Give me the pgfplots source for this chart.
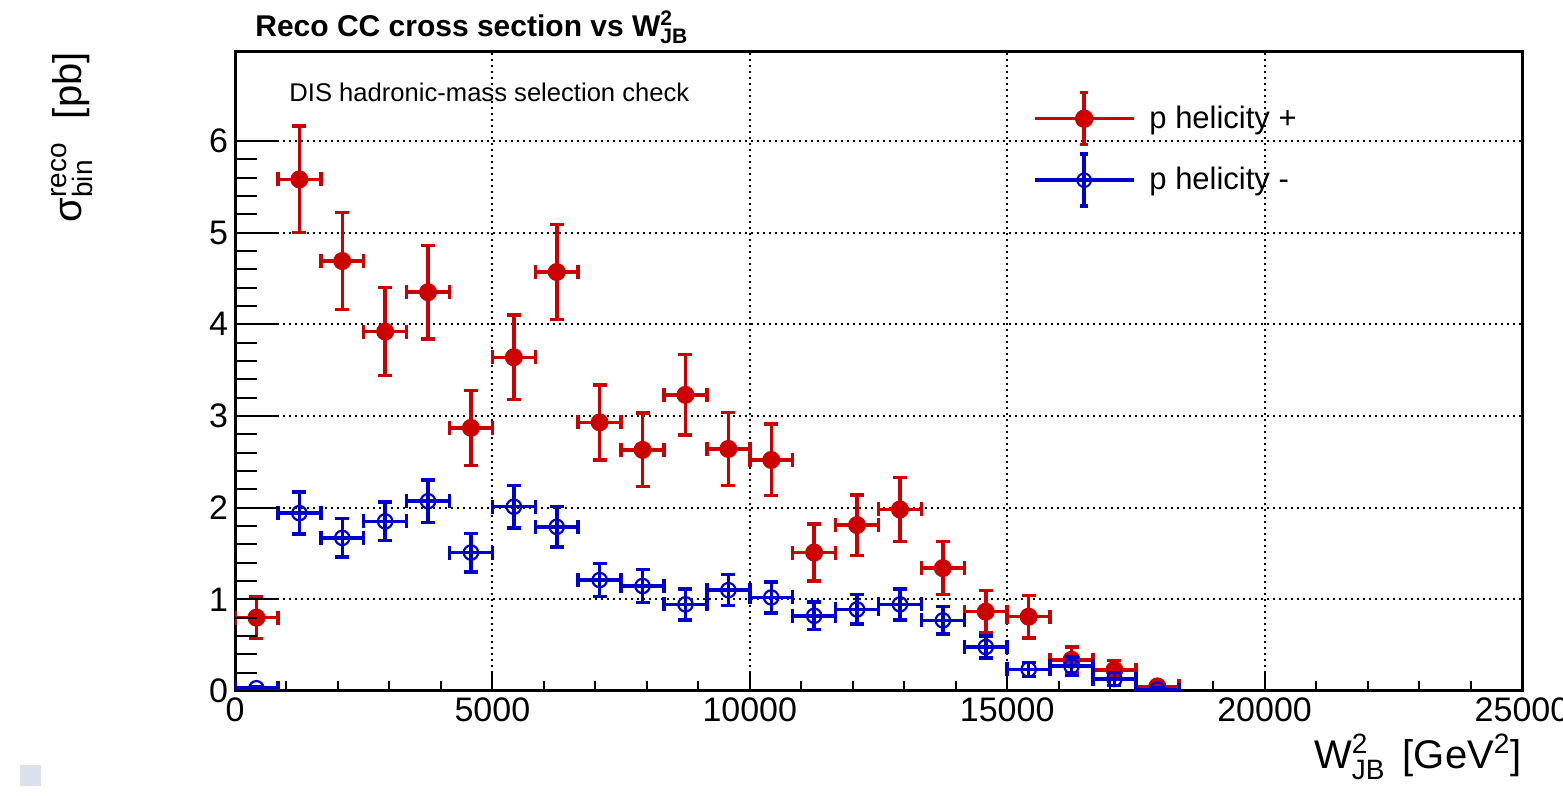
\documentclass[border=0pt]{standalone}
\usepackage{pgfplots}
\usepackage{pgfplotstable}
\pgfplotsset{compat=1.18}
\usepackage{fontspec}
\setmainfont{Liberation Sans}
\definecolor{cred}{RGB}{204,0,0}
\definecolor{cblue}{RGB}{0,0,204}
\definecolor{csq}{RGB}{220,225,238}

\pgfplotstableread{
x ex y ey
416.67 416.67 0.80 0.23
1250 416.67 5.58 0.58
2083.33 416.67 4.69 0.53
2916.67 416.67 3.92 0.48
3750 416.67 4.35 0.51
4583.33 416.67 2.87 0.41
5416.67 416.67 3.64 0.46
6250 416.67 4.57 0.52
7083.33 416.67 2.93 0.41
7916.67 416.67 2.63 0.40
8750 416.67 3.23 0.44
9583.33 416.67 2.64 0.40
10416.67 416.67 2.52 0.39
11250 416.67 1.51 0.31
12083.33 416.67 1.81 0.33
12916.67 416.67 1.98 0.35
13750 416.67 1.34 0.29
14583.33 416.67 0.865 0.23
15416.67 416.67 0.81 0.23
16250 416.67 0.34 0.14
17083.33 416.67 0.23 0.10
17916.67 416.67 0.05 0.04
}\redtab

\pgfplotstableread{
x ex y ey
416.67 416.67 0.03 0.02
1250 416.67 1.94 0.23
2083.33 416.67 1.67 0.21
2916.67 416.67 1.85 0.21
3750 416.67 2.07 0.23
4583.33 416.67 1.51 0.21
5416.67 416.67 2.01 0.23
6250 416.67 1.79 0.22
7083.33 416.67 1.21 0.18
7916.67 416.67 1.145 0.18
8750 416.67 0.945 0.17
9583.33 416.67 1.10 0.17
10416.67 416.67 1.02 0.17
11250 416.67 0.82 0.15
12083.33 416.67 0.89 0.16
12916.67 416.67 0.945 0.17
13750 416.67 0.77 0.15
14583.33 416.67 0.48 0.12
15416.67 416.67 0.235 0.077
16250 416.67 0.27 0.10
17083.33 416.67 0.13 0.07
17916.67 416.67 0.015 0.015
}\bluetab

\begin{document}
\begin{tikzpicture}
\useasboundingbox (0pt,0pt) rectangle (781.5pt,398pt);
\fill[csq] (10pt,5pt) rectangle (20.5pt,15.5pt);
\begin{axis}[
  at={(117.5pt,52.5pt)}, anchor=south west,
  scale only axis, width=643.5pt, height=319.5pt,
  xmin=0, xmax=25000, ymin=0, ymax=6.97,
  xtick={0,5000,10000,15000,20000,25000}, minor x tick num=4,
  ytick={0,1,2,3,4,5,6}, minor y tick num=4,
  grid=major,
  major grid style={black, line width=1pt, dash pattern=on 1pt off 2pt},
  axis line style={black, line width=1.5pt},
  tick style={black, line width=1pt},
  tick align=inside, tick pos=left,
  major tick length=9.5pt, minor tick length=5pt,
  scaled x ticks=false, scaled y ticks=false,
  /pgf/number format/assume math mode=true,
  /pgf/number format/1000 sep={},
  tick label style={font=\fontsize{17}{17}\selectfont},
  clip marker paths=true,
  title={\textbf{Reco CC cross section vs W$^{\mathbf{2}}_{\mathbf{JB}}$}},
  title style={at={(axis description cs:0.0155,1.025)}, anchor=base west, yshift=-6pt, font=\fontsize{15}{15}\selectfont, inner sep=0pt},
  xlabel={W$^{\mathrm{2}}_{\mathrm{JB}}$\hspace{0.15em} [GeV$^{\mathrm{2}}$]},
  xlabel style={at={(axis description cs:1,-0.122)}, anchor=base east, font=\fontsize{20}{20}\selectfont, inner sep=0pt},
  ylabel={σ$^{\mathrm{reco}}_{\mathrm{bin}}$\hspace{0.3em} [pb]},
  ylabel style={at={(axis description cs:-0.1189,1)}, anchor=base east, font=\fontsize{20}{20}\selectfont, inner sep=0pt},
  legend style={at={(axis description cs:0.620,0.939)}, anchor=north west, draw=none, fill=none,
    inner sep=0pt, outer sep=0pt, row sep=3pt, column sep=7pt,
    font=\fontsize{15.5}{15.5}\selectfont, nodes={inner sep=0pt}},
  legend cell align=left,
]
\addlegendimage{legend image code/.code={
  \draw[cred, line width=1.75pt] (0pt,0pt) -- (49.5pt,0pt);
  \draw[cred, line width=1.75pt] (24.75pt,-13pt) -- (24.75pt,13pt);
  \draw[cred, line width=1.75pt] (22.75pt,13pt) -- (26.75pt,13pt);
  \draw[cred, line width=1.75pt] (22.75pt,-13pt) -- (26.75pt,-13pt);
  \fill[cred] (24.75pt,0pt) circle (4.4pt);
}}
\addlegendentry{p helicity +}
\addlegendimage{legend image code/.code={
  \draw[cblue, line width=1.75pt] (0pt,0pt) -- (49.5pt,0pt);
  \draw[cblue, line width=1.75pt] (24.75pt,-13pt) -- (24.75pt,13pt);
  \draw[cblue, line width=1.75pt] (22.75pt,13pt) -- (26.75pt,13pt);
  \draw[cblue, line width=1.75pt] (22.75pt,-13pt) -- (26.75pt,-13pt);
  \draw[cblue, line width=1pt] (24.75pt,0pt) circle (3.4pt);
}}
\addlegendentry{p helicity -}

\addplot[forget plot, only marks, mark=*, color=cred, mark size=4.3pt,
  error bars/.cd, x dir=both, x explicit, y dir=both, y explicit,
  error bar style={line width=1.75pt, cred},
  error mark options={rotate=90, line width=1.75pt, mark size=3.5pt, cred}]
  table[x=x, y=y, x error=ex, y error=ey]{\redtab};
\addplot[forget plot, only marks, mark=o, color=cblue, mark size=3.6pt,
  mark options={line width=1.1pt},
  error bars/.cd, x dir=both, x explicit, y dir=both, y explicit,
  error bar style={line width=1.75pt, cblue},
  error mark options={rotate=90, line width=1.75pt, mark size=3.5pt, cblue}]
  table[x=x, y=y, x error=ex, y error=ey]{\bluetab};

\node[anchor=base west, font=\fontsize{12.8}{12.8}\selectfont, inner sep=0pt] at (rel axis cs:0.042,0.923) {DIS hadronic-mass selection check};
\end{axis}
\begin{axis}[
  at={(117.5pt,52.5pt)}, anchor=south west,
  scale only axis, width=643.5pt, height=319.5pt,
  xmin=0, xmax=25000, ymin=0, ymax=6.97,
  xtick=\empty, ytick={0,1,2,3,4,5,6}, minor y tick num=4,
  yticklabels={},
  axis line style={draw=none},
  tick style={black, line width=1pt},
  tick align=inside, tick pos=left,
  major tick length=21.5pt, minor tick length=11pt,
]
\end{axis}
\end{tikzpicture}
\end{document}
